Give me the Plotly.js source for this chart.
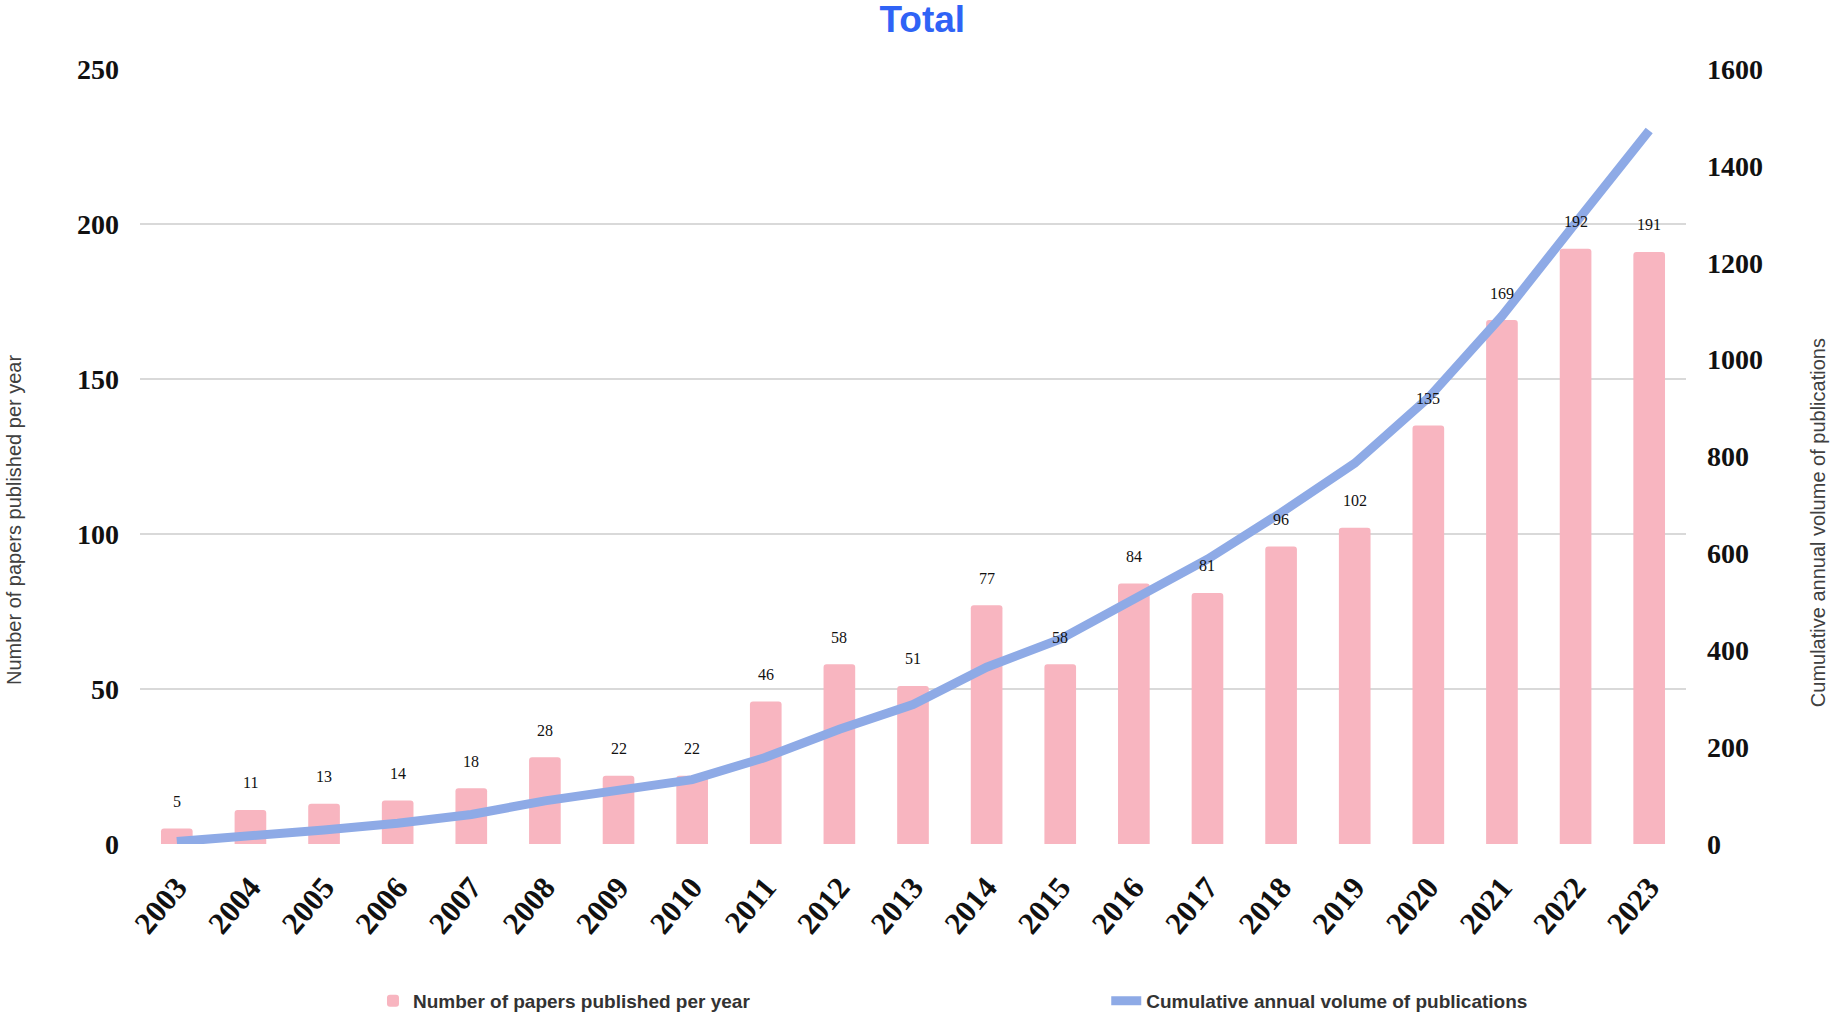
<!DOCTYPE html>
<html>
<head>
<meta charset="utf-8">
<script src="https://cdn.plot.ly/plotly-3.0.1.min.js"></script>
<style>html,body{margin:0;padding:0;background:#fff;}#chart{width:1833px;height:1017px;}</style>
</head>
<body>
<div id="chart"></div>
<script>
const years = ['2003','2004','2005','2006','2007','2008','2009','2010','2011','2012','2013','2014','2015','2016','2017','2018','2019','2020','2021','2022','2023'];
const papersPerYear = [5, 11, 13, 14, 18, 28, 22, 22, 46, 58, 51, 77, 58, 84, 81, 96, 102, 135, 169, 192, 191];
const cumulative = [5, 16, 29, 43, 61, 89, 111, 133, 179, 237, 288, 365, 423, 507, 588, 684, 786, 921, 1090, 1282, 1473];
const leftTicks = [0, 50, 100, 150, 200, 250];
const rightTicks = [0, 200, 400, 600, 800, 1000, 1200, 1400, 1600];

const serif = 'Liberation Serif, Times New Roman, serif';
const sans = 'Liberation Sans, Arial, sans-serif';

const bars = {
  type: 'bar', x: years, y: papersPerYear,
  name: 'Number of papers published per year',
  marker: {color: '#f8b5c0'},
  hoverinfo: 'skip', legend: 'legend', showlegend: true
};
const line = {
  type: 'scatter', mode: 'lines', x: years, y: cumulative, yaxis: 'y2',
  name: 'Cumulative annual volume of publications',
  line: {color: '#8eaae6', width: 9},
  hoverinfo: 'skip', legend: 'legend2', showlegend: true
};

// category axis: annotation x given as category index
const labelAnn = years.map((yr, i) => ({
  x: i, y: papersPerYear[i], xref: 'x', yref: 'y',
  text: String(papersPerYear[i]), showarrow: false,
  yanchor: 'middle', yshift: 27,
  font: {family: serif, size: 16, color: '#111'}
}));

const legendFont = {family: sans, size: 19, color: '#333', weight: 'bold'};

const layout = {
  width: 1833, height: 1017,
  margin: {l: 140, r: 147, t: 69, b: 173, autoexpand: false},
  paper_bgcolor: '#fff', plot_bgcolor: '#fff',
  showlegend: true,
  title: {text: '<b>Total</b>', font: {family: sans, size: 37, color: '#2f63f6'},
          xref: 'paper', x: 0.506, xanchor: 'center', yref: 'container', y: 0.981, yanchor: 'middle'},
  bargap: 0.57,
  barcornerradius: 3,
  xaxis: {type: 'category', categoryorder: 'array', categoryarray: years, range: [-0.5, 20.5],
          automargin: false, tickangle: -50, ticks: '', showline: false, showgrid: false,
          tickfont: {family: serif, size: 31, color: '#111', weight: 'bold'}, ticklabelstandoff: 18},
  yaxis: {range: [0, 250], tickvals: leftTicks, ticks: '', showline: false, zeroline: false,
          automargin: false, gridcolor: '#d9d9d9', gridwidth: 1.5,
          tickfont: {family: serif, size: 28, color: '#111', weight: 'bold'}, ticklabelstandoff: 20},
  yaxis2: {range: [0, 1600], tickvals: rightTicks, overlaying: 'y', side: 'right', showgrid: false,
           automargin: false, zeroline: false, ticks: '', showline: false,
           tickfont: {family: serif, size: 28, color: '#111', weight: 'bold'}, ticklabelstandoff: 20},
  legend: {visible: true, orientation: 'h', x: 0.1507, xanchor: 'left', y: -0.2026, yanchor: 'middle',
           font: legendFont, bgcolor: 'rgba(0,0,0,0)'},
  legend2: {visible: true, orientation: 'h', x: 0.625, xanchor: 'left', y: -0.2026, yanchor: 'middle',
           font: legendFont, bgcolor: 'rgba(0,0,0,0)'},
  annotations: labelAnn.concat([
    {text: 'Number of papers published per year', xref: 'paper', yref: 'paper', x: -0.0815, y: 0.418,
     textangle: -90, showarrow: false, xanchor: 'center', yanchor: 'middle',
     font: {family: sans, size: 20, color: '#404040'}},
    {text: 'Cumulative annual volume of publications', xref: 'paper', yref: 'paper', x: 1.0854, y: 0.414,
     textangle: -90, showarrow: false, xanchor: 'center', yanchor: 'middle',
     font: {family: sans, size: 20, color: '#404040'}}
  ])
};

Plotly.newPlot('chart', [bars, line], layout, {displayModeBar: false, staticPlot: true});
</script>
</body>
</html>
